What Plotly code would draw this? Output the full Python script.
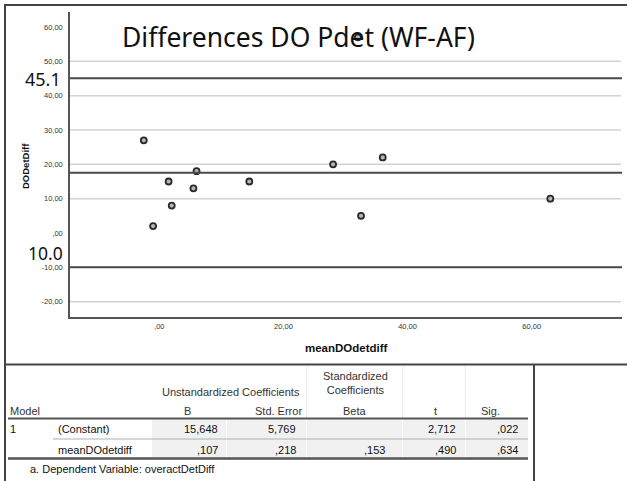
import plotly.graph_objects as go

# ---------------- data ----------------
mean_x = [-2.5, 6.0, 1.5, 5.5, 2.0, -1.0, 14.5, 28.0, 36.0, 32.5, 63.0, 32.0]
diff_y = [27.0, 18.0, 15.0, 13.0, 8.0, 2.0, 15.0, 20.0, 22.0, 5.0, 10.0, 57.0]

upper_loa = 45.1
mean_diff = 17.55
lower_loa = -10.0

y_ticks = [-20, -10, 0, 10, 20, 30, 40, 50, 60]
y_ticktext = ["-20,00", "-10,00", ",00", "10,00", "20,00", "30,00", "40,00", "50,00", "60,00"]
grid_vals = [50, 40, 30, 20, 10, -10, -20]
x_ticks = [0, 20, 40, 60]
x_ticktext = [",00", "20,00", "40,00", "60,00"]

title_text = "Differences DO Pdet (WF-AF)"
upper_label = "45.1"
lower_label = "10.0"
x_title = "meanDOdetdiff"
y_title = "DODetDiff"

# regression table
tbl_group1 = "Unstandardized Coefficients"
tbl_group2 = "Standardized<br>Coefficients"
tbl_cols = ["B", "Std. Error", "Beta", "t", "Sig."]
tbl_model = "1"
tbl_rows = ["(Constant)", "meanDOdetdiff"]
col_B = ["15,648", ",107"]
col_SE = ["5,769", ",218"]
col_Beta = ["", ",153"]
col_t = ["2,712", ",490"]
col_Sig = [",022", ",634"]
tbl_note = "a. Dependent Variable: overactDetDiff"

W, H = 627, 481
def X(px):
    return px / W
def Y(py):
    return 1 - py / H

fig = go.Figure()
fig.add_trace(go.Scatter(
    x=mean_x, y=diff_y, mode="markers",
    marker=dict(symbol="circle", size=6, color="#b5b5b5",
                line=dict(width=1.8, color="#2a2a2a")),
    showlegend=False, hoverinfo="skip"))

shapes = []
for g in grid_vals:
    shapes.append(dict(type="line", xref="x domain", yref="y", x0=0, x1=0.998, y0=g, y1=g,
                       line=dict(color="#d2d2d2", width=1.5), layer="below"))
for v in [upper_loa, mean_diff, lower_loa]:
    shapes.append(dict(type="line", xref="x domain", yref="y", x0=0, x1=1, y0=v, y1=v,
                       line=dict(color="#4a4a4a", width=2)))

frame_col = "#444444"
shapes += [
    dict(type="line", xref="paper", yref="paper", x0=X(5), x1=X(627), y0=Y(5), y1=Y(5),
         line=dict(color=frame_col, width=2)),
    dict(type="line", xref="paper", yref="paper", x0=X(5), x1=X(5), y0=Y(4), y1=Y(481),
         line=dict(color=frame_col, width=2)),
    dict(type="line", xref="paper", yref="paper", x0=X(5), x1=X(627), y0=Y(364.5), y1=Y(364.5),
         line=dict(color=frame_col, width=2)),
    dict(type="line", xref="paper", yref="paper", x0=X(534), x1=X(534), y0=Y(364), y1=Y(481),
         line=dict(color=frame_col, width=2)),
]

col_edges = [(152, 226), (227, 306), (307, 402), (403, 465), (466, 528)]
for (a, b) in col_edges:
    shapes.append(dict(type="rect", xref="paper", yref="paper", x0=X(a), x1=X(b),
                       y0=Y(419), y1=Y(458), fillcolor="#f1f1f1", line=dict(width=0), layer="below"))
for xv in [306.5, 402.5, 465.5]:
    shapes.append(dict(type="line", xref="paper", yref="paper", x0=X(xv), x1=X(xv),
                       y0=Y(366), y1=Y(418), line=dict(color="#ececec", width=1)))
shapes += [
    dict(type="line", xref="paper", yref="paper", x0=X(8), x1=X(528), y0=Y(418.5), y1=Y(418.5),
         line=dict(color="#555555", width=2)),
    dict(type="line", xref="paper", yref="paper", x0=X(53), x1=X(528), y0=Y(439), y1=Y(439),
         line=dict(color="#b0b0b0", width=1.2)),
    dict(type="line", xref="paper", yref="paper", x0=X(8), x1=X(528), y0=Y(458.5), y1=Y(458.5),
         line=dict(color="#555555", width=2.5)),
]

ann = []
def txt(s, px, py, size=11, color="#222", xanchor="center", bold=False, family="Liberation Sans, Arial", angle=0):
    ann.append(dict(text=("<b>%s</b>" % s) if bold else s, x=X(px), y=Y(py), xref="paper", yref="paper",
                    xanchor=xanchor, yanchor="middle", showarrow=False, textangle=angle,
                    font=dict(size=size, color=color, family=family)))

txt(title_text, 298, 37, size=26.5, color="#111", family="Noto Sans")
txt(upper_label, 43, 79, size=18, color="#111", family="Noto Sans")
txt(lower_label, 45, 253.5, size=17.5, color="#111", family="Noto Sans")
txt(x_title, 346.5, 348, size=11.5, color="#111", bold=True)
txt(y_title, 25, 166, size=9.5, color="#111", bold=True, angle=-90)

hdr_col = "#333333"
txt(tbl_group1, 231, 391.5, color=hdr_col)
ann.append(dict(text=tbl_group2, x=X(355), y=Y(382.5), xref="paper", yref="paper",
                xanchor="center", yanchor="middle", showarrow=False,
                font=dict(size=11, color=hdr_col, family="Liberation Sans, Arial")))
txt("Model", 8, 410.5, color=hdr_col, xanchor="left")
for name, cx in zip(tbl_cols, [187, 278, 355, 435, 490]):
    txt(name, cx, 410.5, color=hdr_col)
txt(tbl_model, 8, 428.5, color="#111", xanchor="left")
for i, r in enumerate(tbl_rows):
    txt(r, 56, [428.5, 449.5][i], color="#111", xanchor="left")
for col, rx in zip([col_B, col_SE, col_Beta, col_t, col_Sig], [220, 298, 387, 458, 520]):
    for i, v in enumerate(col):
        if v:
            txt(v, rx, [428.5, 449.5][i], color="#111", xanchor="right")
txt(tbl_note, 28, 468.5, color="#111", xanchor="left")

fig.update_layout(
    width=W, height=H, margin=dict(l=0, r=0, t=0, b=0),
    paper_bgcolor="white", plot_bgcolor="white",
    shapes=shapes, annotations=ann,
    xaxis=dict(domain=[X(70), X(622)], range=[-14.39, 74.55], showgrid=False, zeroline=False,
               showline=True, linecolor="#555555", linewidth=1.5,
               tickvals=x_ticks, ticktext=x_ticktext, ticks="", ticklabelstandoff=1,
               tickfont=dict(size=7.5, color="#333", family="Liberation Sans, Arial")),
    yaxis=dict(domain=[Y(317), Y(12)], range=[-24.47, 64.37], showgrid=False, zeroline=False,
               showline=True, linecolor="#555555", linewidth=1.5,
               tickvals=y_ticks, ticktext=y_ticktext, ticks="", ticklabelstandoff=4,
               tickfont=dict(size=7.5, color="#333", family="Liberation Sans, Arial")),
)

fig.write_html("out.html")
